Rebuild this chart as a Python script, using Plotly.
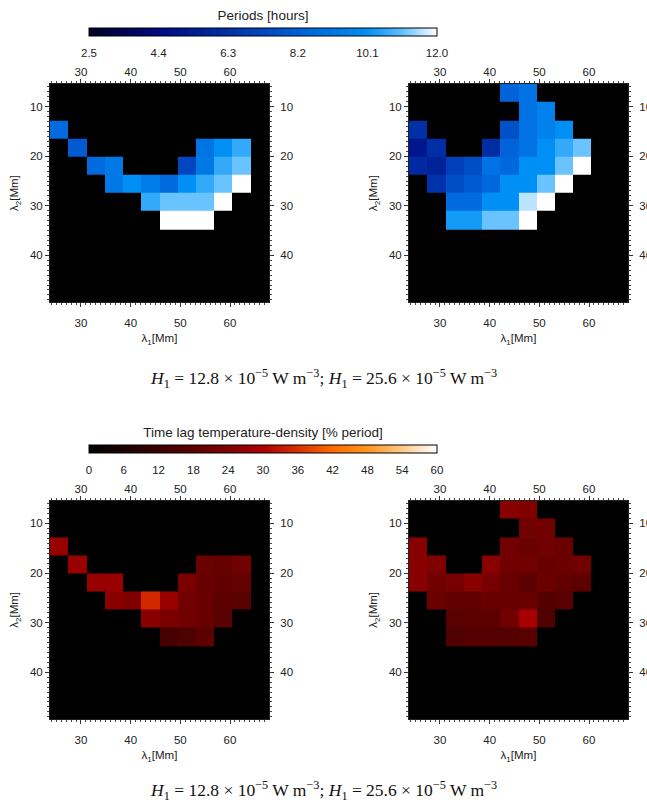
import plotly.graph_objects as go

N = None
# cell centres (Mm)
lambda1 = [25.6, 29.3, 33.0, 36.6, 40.3, 44.0, 47.6, 51.3, 55.0, 58.6, 62.3, 66.0]
lambda2 = [7.2, 10.9, 14.6, 18.2, 21.9, 25.6, 29.2, 32.9, 36.6, 40.2, 43.9, 47.6]

# Periods [hours], rows top (small lambda2) to bottom
period_low = [
    [N, N, N, N, N, N, N, N, N, N, N, N],
    [N, N, N, N, N, N, N, N, N, N, N, N],
    [8.6, N, N, N, N, N, N, N, N, N, N, N],
    [N, 8.0, N, N, N, N, N, N, 9.0, 10.1, 10.6, N],
    [N, N, 8.6, 9.2, N, N, N, 7.2, 9.2, 10.6, 11.1, N],
    [N, N, N, 9.2, 10.1, 9.3, 8.6, 10.1, 10.6, 11.1, 12.0, N],
    [N, N, N, N, N, 10.6, 11.1, 11.1, 11.1, 12.0, N, N],
    [N, N, N, N, N, N, 12.0, 12.0, 12.0, N, N, N],
    [N, N, N, N, N, N, N, N, N, N, N, N],
    [N, N, N, N, N, N, N, N, N, N, N, N],
    [N, N, N, N, N, N, N, N, N, N, N, N],
    [N, N, N, N, N, N, N, N, N, N, N, N],
]
period_high = [
    [N, N, N, N, N, 8.3, 8.9, N, N, N, N, N],
    [N, N, N, N, N, N, 8.9, 9.5, N, N, N, N],
    [6.3, N, N, N, N, 7.6, 8.9, 9.5, 10.1, N, N, N],
    [5.0, 6.2, N, N, 6.1, 8.3, 8.9, 10.1, 10.6, 11.1, N, N],
    [6.0, 5.6, 6.9, 7.5, 8.9, 8.5, 10.1, 10.1, 11.1, 12.0, N, N],
    [N, 6.4, 7.5, 8.0, 8.5, 10.1, 10.1, 11.1, 12.0, N, N, N],
    [N, N, 8.6, 8.6, 10.1, 10.1, 11.6, 12.0, N, N, N, N],
    [N, N, 10.3, 10.3, 11.1, 11.1, 12.0, N, N, N, N, N],
    [N, N, N, N, N, N, N, N, N, N, N, N],
    [N, N, N, N, N, N, N, N, N, N, N, N],
    [N, N, N, N, N, N, N, N, N, N, N, N],
    [N, N, N, N, N, N, N, N, N, N, N, N],
]
# Time lag temperature-density [% period]
lag_low = [
    [N, N, N, N, N, N, N, N, N, N, N, N],
    [N, N, N, N, N, N, N, N, N, N, N, N],
    [27, N, N, N, N, N, N, N, N, N, N, N],
    [N, 27, N, N, N, N, N, N, 20.5, 19.5, 21.5, N],
    [N, N, 27, 27, N, N, N, 23, 20, 19, 19.5, N],
    [N, N, N, 25, 24, 35, 27, 21.5, 20, 18, 17.5, N],
    [N, N, N, N, N, 25, 23, 21.5, 20, 17.5, N, N],
    [N, N, N, N, N, N, 14, 15.5, 18, N, N, N],
    [N, N, N, N, N, N, N, N, N, N, N, N],
    [N, N, N, N, N, N, N, N, N, N, N, N],
    [N, N, N, N, N, N, N, N, N, N, N, N],
    [N, N, N, N, N, N, N, N, N, N, N, N],
]
lag_high = [
    [N, N, N, N, N, 25, 24, N, N, N, N, N],
    [N, N, N, N, N, N, 21.5, 21.5, N, N, N, N],
    [25, N, N, N, N, 21.5, 20.5, 21.5, 20.5, N, N, N],
    [25, 24, N, N, 25, 21.5, 21.5, 20, 20.5, 21.5, N, N],
    [25, 21.5, 22.5, 25, 22.5, 20, 18, 20.5, 19, 18, N, N],
    [N, 20.5, 19, 19, 20, 20, 20, 16.5, 17.5, N, N, N],
    [N, N, 17.5, 18, 18, 21.5, 29, 16, N, N, N, N],
    [N, N, 15.5, 16.5, 16.5, 16.5, 17.5, N, N, N, N, N],
    [N, N, N, N, N, N, N, N, N, N, N, N],
    [N, N, N, N, N, N, N, N, N, N, N, N],
    [N, N, N, N, N, N, N, N, N, N, N, N],
    [N, N, N, N, N, N, N, N, N, N, N, N],
]

period_ticks = [2.5, 4.4, 6.3, 8.2, 10.1, 12.0]
lag_ticks = [0, 6, 12, 18, 24, 30, 36, 42, 48, 54, 60]
axis_ticks = [10, 20, 30, 40, 50, 60]

period_scale = [
    [0.0, "#000028"], [0.2, "#000a80"], [0.4, "#0030a8"], [0.6, "#0060d8"],
    [0.8, "#0090f5"], [0.9, "#60c0ff"], [1.0, "#ffffff"],
]
lag_scale = [
    [0.0, "#000000"], [0.1, "#1c0000"], [0.2, "#3c0000"], [0.3, "#5c0000"],
    [0.4, "#800000"], [0.5, "#b00000"], [0.6, "#d83000"], [0.7, "#ff6a00"],
    [0.8, "#ff9520"], [0.9, "#ffc888"], [1.0, "#ffffff"],
]

W, H = 647, 806
XR = [23.76, 67.85]
YR = [49.43, 5.41]
FONT = "Liberation Sans, Arial, sans-serif"
TXT = "#222222"

xdoms = [[50 / W, 269 / W], [409 / W, 628 / W]]
ydoms = [[1 - 302 / H, 1 - 84 / H], [1 - 719 / H, 1 - 500.7 / H]]

fig = go.Figure()
panels = [(period_low, "coloraxis"), (period_high, "coloraxis"),
          (lag_low, "coloraxis2"), (lag_high, "coloraxis2")]

layout = dict(
    width=W, height=H,
    margin=dict(l=0, r=0, t=0, b=0, autoexpand=False),
    paper_bgcolor="white", plot_bgcolor="black",
    font=dict(family=FONT, size=11, color=TXT),
    showlegend=False,
)

minor = dict(dtick=1, ticklen=2, ticks="outside", tickcolor="#444", tickwidth=1)
common = dict(ticks="outside", ticklen=4, tickcolor="#333", tickwidth=1,
              showgrid=False, zeroline=False, tickvals=axis_ticks,
              tickfont=dict(size=11.5, color=TXT), minor=minor,
              showline=True, linecolor="#222", linewidth=1)

for k, (z, ca) in enumerate(panels):
    i = k + 1
    xd = xdoms[k % 2]
    yd = ydoms[k // 2]
    fig.add_trace(go.Heatmap(
        x=lambda1, y=lambda2, z=z, coloraxis=ca,
        xaxis=f"x{i}", yaxis=f"y{i}", hoverongaps=False,
    ))
    # invisible helper traces to activate mirror axes
    fig.add_trace(go.Scatter(x=[None], y=[None], xaxis=f"x{i+4}", yaxis=f"y{i}",
                             hoverinfo="skip", showlegend=False))
    fig.add_trace(go.Scatter(x=[None], y=[None], xaxis=f"x{i}", yaxis=f"y{i+4}",
                             hoverinfo="skip", showlegend=False))
    sx = "" if i == 1 else str(i)
    layout[f"xaxis{sx}"] = dict(common, domain=xd, range=XR, anchor=f"y{i}", side="bottom",
                                ticklabelstandoff=6,
                                title=dict(text="λ<sub>1</sub>[Mm]", standoff=6,
                                           font=dict(size=11.5, color=TXT)))
    layout[f"yaxis{sx}"] = dict(common, domain=yd, range=YR, anchor=f"x{i}", side="left",
                                title=dict(text="λ<sub>2</sub>[Mm]", standoff=8,
                                           font=dict(size=11.5, color=TXT)))
    layout[f"xaxis{i+4}"] = dict(common, domain=xd, range=XR, anchor=f"y{i}", side="top",
                                 ticklabelstandoff=-2, overlaying=f"x{i}")
    layout[f"yaxis{i+4}"] = dict(common, domain=yd, range=YR, anchor=f"x{i}", side="right",
                                 ticklabelstandoff=4, overlaying=f"y{i}")

cb_common = dict(orientation="h", x=263 / W, xanchor="center", lenmode="fraction",
                 len=348 / W, thickness=8, yanchor="top", outlinecolor="black",
                 outlinewidth=1, xpad=0, ypad=0, ticks="outside", ticklen=7,
                 tickcolor="rgba(0,0,0,0)", tickfont=dict(size=11.5, color=TXT))

layout["coloraxis"] = dict(
    colorscale=period_scale, cmin=2.5, cmax=12.0,
    colorbar=dict(cb_common, y=1 - 13 / H,
                  title=dict(text="Periods [hours]", side="top", font=dict(size=13.5, color=TXT)),
                  tickvals=period_ticks, ticktext=[f"{v:.1f}" for v in period_ticks]),
)
layout["coloraxis2"] = dict(
    colorscale=lag_scale, cmin=0, cmax=60,
    colorbar=dict(cb_common, y=1 - 430 / H,
                  title=dict(text="Time lag temperature-density [% period]", side="top",
                             font=dict(size=13.5, color=TXT)),
                  tickvals=lag_ticks, ticktext=[str(v) for v in lag_ticks]),
)

caption = ("<i>H</i><sub>1</sub> = 12.8 × 10<sup>−5</sup> W m<sup>−3</sup>; "
           "<i>H</i><sub>1</sub> = 25.6 × 10<sup>−5</sup> W m<sup>−3</sup>")
layout["annotations"] = [
    dict(text=caption, x=0.5, y=1 - 378 / H, xref="paper", yref="paper",
         xanchor="center", yanchor="middle", showarrow=False,
         font=dict(family="Liberation Serif, Times New Roman, serif", size=17.5, color="#111")),
    dict(text=caption, x=0.5, y=1 - 790 / H, xref="paper", yref="paper",
         xanchor="center", yanchor="middle", showarrow=False,
         font=dict(family="Liberation Serif, Times New Roman, serif", size=17.5, color="#111")),
]

fig.update_layout(**layout)
fig.write_html("out.html", config={"displayModeBar": False},
               post_script="document.body.style.margin='0';")
